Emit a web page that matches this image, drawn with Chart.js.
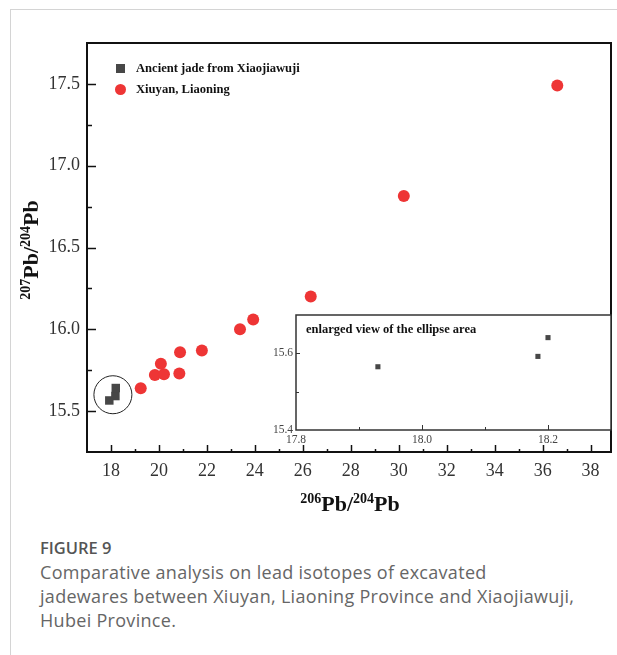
<!DOCTYPE html>
<html>
<head>
<meta charset="utf-8">
<script src="https://cdn.jsdelivr.net/npm/chart.js@4.4.1/dist/chart.umd.min.js"></script>
<style>
html,body{margin:0;padding:0;background:#fff;width:617px;height:655px;overflow:hidden;}
body{position:relative;font-family:"Liberation Serif",serif;}
#card{position:absolute;left:10px;top:9px;width:640px;height:700px;border-top:1px solid #d4d4d4;border-left:1px solid #d4d4d4;}
#mainCanvas{position:absolute;left:0;top:0;}
#insetCanvas{position:absolute;left:262px;top:305px;}
.legend{position:absolute;left:0;top:0;}
.lg-row{position:absolute;left:136px;font-family:"Liberation Serif",serif;font-weight:bold;font-size:12.6px;color:#111;white-space:nowrap;line-height:16px;height:16px;}
.lg-mark{position:absolute;}
.axt{position:absolute;font-family:"Liberation Serif",serif;font-weight:bold;font-size:22px;color:#111;text-align:center;white-space:nowrap;line-height:26px;height:26px;}
.axt sup{font-size:14px;vertical-align:0;position:relative;top:-8px;}
#ytitle{left:-69px;top:237px;width:200px;transform:rotate(-90deg);transform-origin:100px 13px;}
#xtitle{left:200px;top:491px;width:300px;}
#insetTitle{position:absolute;left:306px;top:321px;font-family:"Liberation Serif",serif;font-weight:bold;font-size:12.5px;color:#111;white-space:nowrap;line-height:16px;}
#figlabel{position:absolute;left:40px;top:536px;font-family:"Open Sans",sans-serif;font-weight:600;font-size:16.5px;color:#555;}
#caption{position:absolute;left:40px;top:560px;font-family:"Open Sans",sans-serif;font-weight:400;font-size:18px;letter-spacing:0.3px;line-height:24px;color:#666;white-space:nowrap;}
</style>
</head>
<body>
<div id="card"></div>
<canvas id="mainCanvas" width="617" height="520"></canvas>
<canvas id="insetCanvas" width="355" height="145"></canvas>
<div id="legend" class="legend"></div>
<div id="ytitle" class="axt"><sup>207</sup>Pb/<sup>204</sup>Pb</div>
<div id="xtitle" class="axt"><sup>206</sup>Pb/<sup>204</sup>Pb</div>
<div id="insetTitle">enlarged view of the ellipse area</div>
<div id="figlabel">FIGURE 9</div>
<div id="caption">Comparative analysis on lead isotopes of excavated<br>jadewares between Xiuyan, Liaoning Province and Xiaojiawuji,<br>Hubei Province.</div>
<script>
// ---------- data ----------
const SERIES_NAMES = ['Ancient jade from Xiaojiawuji', 'Xiuyan, Liaoning'];
const JADE_X = [17.93, 18.184, 18.2];
const JADE_Y = [15.565, 15.592, 15.641];
const XIUYAN_X = [19.24, 19.83, 20.21, 20.08, 20.85, 20.88, 21.79, 23.38, 23.93, 26.33, 30.21, 36.61];
const XIUYAN_Y = [15.64, 15.72, 15.725, 15.79, 15.73, 15.86, 15.87, 16.0, 16.06, 16.2, 16.815, 17.49];
// main axis ticks
const X_TICKS = [18, 20, 22, 24, 26, 28, 30, 32, 34, 36, 38];
const X_TICK_LABELS = ['18', '20', '22', '24', '26', '28', '30', '32', '34', '36', '38'];
const X_MINOR = [19, 21, 23, 25, 27, 29, 31, 33, 35, 37];
const Y_TICKS = [15.5, 16.0, 16.5, 17.0, 17.5];
const Y_TICK_LABELS = ['15.5', '16.0', '16.5', '17.0', '17.5'];
const Y_MINOR = [15.75, 16.25, 16.75, 17.25];
// inset axis ticks
const IX_TICKS = [17.8, 18.0, 18.2];
const IX_TICK_LABELS = ['17.8', '18.0', '18.2'];
const IX_MINOR = [17.9, 18.1, 18.3];
const IY_TICKS = [15.4, 15.6];
const IY_TICK_LABELS = ['15.4', '15.6'];
const IY_MINOR = [15.5, 15.7];
// ellipse marking the jade cluster (data centre)
const ELLIPSE_CENTER = {x: 18.08, y: 15.60};

// ---------- styles ----------
const RED = '#ee3535';
const GREY = '#474747';
const TICK_FONT = {family: 'Liberation Serif', size: 18};

function pts(xs, ys) { return xs.map((x, i) => ({x: x, y: ys[i]})); }

function tickPlugin(cfg) {
  return {
    id: 'frameTicks' + cfg.name,
    beforeDraw(chart) {
      if (cfg.fill) {
        const a = chart.chartArea, c = chart.ctx;
        c.save(); c.fillStyle = '#fff'; c.fillRect(a.left, a.top, a.right - a.left, a.bottom - a.top); c.restore();
      }
    },
    afterDraw(chart) {
      const c = chart.ctx, a = chart.chartArea, xs = chart.scales.x, ys = chart.scales.y;
      c.save();
      c.strokeStyle = cfg.color; c.lineWidth = cfg.tickWidth;
      const drawX = (vals, len) => vals.forEach(v => {
        const p = Math.round(xs.getPixelForValue(v)) + 0.5;
        if (p <= a.left + 1 || p >= a.right - 1) return;
        c.beginPath(); c.moveTo(p, a.bottom); c.lineTo(p, a.bottom - len); c.stroke();
      });
      const drawY = (vals, len) => vals.forEach(v => {
        const p = Math.round(ys.getPixelForValue(v)) + 0.5;
        if (p <= a.top + 1 || p >= a.bottom - 1) return;
        c.beginPath(); c.moveTo(a.left, p); c.lineTo(a.left + len, p); c.stroke();
      });
      drawX(cfg.xMajor, cfg.xMajLen); drawX(cfg.xMinor, cfg.xMinLen);
      drawY(cfg.yMajor, cfg.yMajLen); drawY(cfg.yMinor, cfg.yMinLen);
      c.lineWidth = cfg.frameWidth;
      c.strokeRect(a.left, a.top, a.right - a.left, a.bottom - a.top);
      if (cfg.ellipse) {
        c.lineWidth = 1; c.strokeStyle = '#222';
        c.beginPath();
        c.arc(xs.getPixelForValue(cfg.ellipse.x), ys.getPixelForValue(cfg.ellipse.y), 19, 0, Math.PI * 2);
        c.stroke();
      }
      c.restore();
    }
  };
}

Chart.defaults.font.family = 'Liberation Serif';

new Chart(document.getElementById('mainCanvas'), {
  type: 'scatter',
  data: {
    datasets: [
      {label: SERIES_NAMES[0], data: pts(JADE_X, JADE_Y), pointStyle: 'rect', pointRadius: 6, backgroundColor: GREY, borderWidth: 0},
      {label: SERIES_NAMES[1], data: pts(XIUYAN_X, XIUYAN_Y), pointStyle: 'circle', pointRadius: 6, backgroundColor: RED, borderWidth: 0}
    ]
  },
  options: {
    responsive: false, animation: false, devicePixelRatio: 1,
    layout: {padding: {top: 43, right: 5, left: 0, bottom: 0}},
    plugins: {legend: {display: false}, tooltip: {enabled: false}},
    scales: {
      x: {
        type: 'linear', min: 17, max: 38.85,
        afterBuildTicks: s => { s.ticks = X_TICKS.map(v => ({value: v})); },
        afterFit: s => { s.height = 68; },
        grid: {display: false, drawTicks: false}, border: {display: false},
        ticks: {padding: 8, font: TICK_FONT, color: '#333', maxRotation: 0, autoSkip: false,
                callback: (v, i) => X_TICK_LABELS[i]}
      },
      y: {
        type: 'linear', min: 15.25, max: 17.75,
        afterBuildTicks: s => { s.ticks = Y_TICKS.map(v => ({value: v})); },
        afterFit: s => { s.width = 87; },
        grid: {display: false, drawTicks: false}, border: {display: false},
        ticks: {padding: 7, font: TICK_FONT, color: '#333', autoSkip: false,
                callback: (v, i) => Y_TICK_LABELS[i]}
      }
    }
  },
  plugins: [tickPlugin({name: 'main', color: '#111', tickWidth: 1.5, frameWidth: 2,
    xMajor: X_TICKS, xMinor: X_MINOR, xMajLen: 7, xMinLen: 3,
    yMajor: Y_TICKS, yMinor: Y_MINOR, yMajLen: 9, yMinLen: 5, ellipse: ELLIPSE_CENTER})]
});

new Chart(document.getElementById('insetCanvas'), {
  type: 'scatter',
  data: {
    datasets: [
      {label: SERIES_NAMES[0], data: pts(JADE_X, JADE_Y), pointStyle: 'rect', pointRadius: 3.6, backgroundColor: GREY, borderWidth: 0}
    ]
  },
  options: {
    responsive: false, animation: false, devicePixelRatio: 1,
    layout: {padding: {top: 10, right: 6, left: 0, bottom: 0}},
    plugins: {legend: {display: false}, tooltip: {enabled: false}},
    scales: {
      x: {
        type: 'linear', min: 17.8, max: 18.3,
        afterBuildTicks: s => { s.ticks = IX_TICKS.map(v => ({value: v})); },
        afterFit: s => { s.height = 20; },
        grid: {display: false, drawTicks: false}, border: {display: false},
        ticks: {padding: 3, font: {family: 'Liberation Serif', size: 11.5}, color: '#444', maxRotation: 0, autoSkip: false,
                callback: (v, i) => IX_TICK_LABELS[i]}
      },
      y: {
        type: 'linear', min: 15.4, max: 15.7,
        afterBuildTicks: s => { s.ticks = IY_TICKS.map(v => ({value: v})); },
        afterFit: s => { s.width = 34; },
        grid: {display: false, drawTicks: false}, border: {display: false},
        ticks: {padding: 3, font: {family: 'Liberation Serif', size: 11.5}, color: '#444', autoSkip: false,
                callback: (v, i) => IY_TICK_LABELS[i]}
      }
    }
  },
  plugins: [tickPlugin({name: 'inset', fill: true, color: '#333', tickWidth: 1, frameWidth: 1.5,
    xMajor: IX_TICKS, xMinor: IX_MINOR, xMajLen: 5, xMinLen: 3,
    yMajor: IY_TICKS, yMinor: IY_MINOR, yMajLen: 4, yMinLen: 3})]
});

// ---------- legend (HTML) ----------
(function () {
  const lg = document.getElementById('legend');
  const rows = [
    {name: SERIES_NAMES[0], color: GREY, shape: 'rect', cy: 68},
    {name: SERIES_NAMES[1], color: RED, shape: 'circle', cy: 89}
  ];
  rows.forEach(r => {
    const m = document.createElement('div');
    m.className = 'lg-mark';
    const s = r.shape === 'rect' ? 9 : 11;
    m.style.width = s + 'px'; m.style.height = s + 'px';
    m.style.left = (120 - s / 2) + 'px'; m.style.top = (r.cy - s / 2) + 'px';
    m.style.background = r.color;
    if (r.shape === 'circle') m.style.borderRadius = '50%';
    lg.appendChild(m);
    const t = document.createElement('div');
    t.className = 'lg-row';
    t.style.top = (r.cy - 8) + 'px';
    t.textContent = r.name;
    lg.appendChild(t);
  });
})();
</script>
</body>
</html>
